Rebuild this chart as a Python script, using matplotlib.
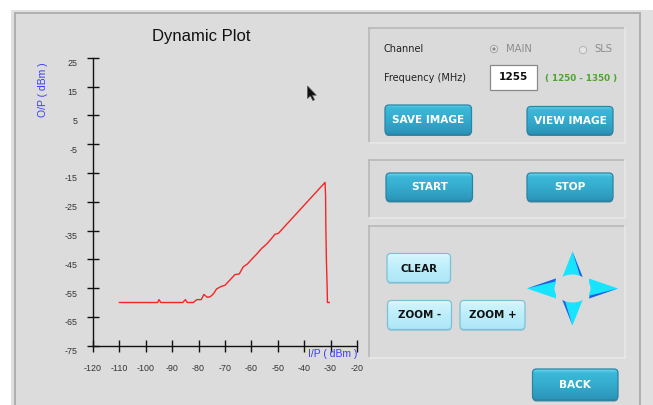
import numpy as np
import matplotlib
matplotlib.use("Agg")
import matplotlib.pyplot as plt
from matplotlib.patches import Rectangle, FancyBboxPatch, Polygon, Ellipse, Circle
from matplotlib.transforms import ScaledTranslation

plt.rcParams["axes.unicode_minus"] = False

# ---------------- data ----------------
ip_dbm = [-110, -95.5, -95, -94.3, -86, -85, -84.3, -82, -80.7, -79, -78, -76.7,
          -75.6, -74.4, -73.2, -71.6, -70, -66.2, -64.6, -63.1, -61.6, -59.9, -58,
          -56.1, -54.2, -52.3, -51.1, -49.8, -32.1, -31.9, -31.8, -31.6, -31.3,
          -31.2, -30.5]
op_dbm = [-60, -60, -59, -60, -60, -59, -60, -60, -59, -59, -57.2, -58.2,
          -58, -57, -55.3, -54.5, -54, -50.3, -50.1, -47.6, -46.7, -45, -43.2,
          -41.2, -39.7, -37.7, -36.3, -36, -18.3, -23, -34, -45, -55,
          -60, -60]
x_ticks = list(range(-120, -19, 10))
y_ticks = list(range(-75, 26, 10))

title_text = "Dynamic Plot"
xlabel_text = "I/P ( dBm )"
ylabel_text = "O/P ( dBm )"

W, H = 653, 405
fig = plt.figure(figsize=(W / 100, H / 100), dpi=100)
fig.patch.set_facecolor("white")

bg = fig.add_axes([0, 0, 1, 1])
bg.set_xlim(0, W)
bg.set_ylim(H, 0)
bg.axis("off")

GRAY = "#dcdcdc"
# main window
bg.add_patch(Rectangle((11, 10), W - 11, H - 10, facecolor="#e0e0e0", edgecolor="none"))
bg.add_patch(Rectangle((15, 13), 640 - 15, H, facecolor=GRAY, edgecolor="#ababab", lw=1.3))

# right panels (sunken)
def panel(x0, y0, x1, y1):
    bg.add_patch(Rectangle((x0, y0), x1 - x0, y1 - y0, facecolor="#dadada", edgecolor="none"))
    bg.plot([x0, x1], [y0, y0], color="#b8b8b8", lw=1.2)
    bg.plot([x0, x0], [y0, y1], color="#b8b8b8", lw=1.2)
    bg.plot([x0, x1], [y1, y1], color="#e8e8e8", lw=1.2)
    bg.plot([x1, x1], [y0, y1], color="#e8e8e8", lw=1.2)

panel(369, 28, 625, 143)
panel(369, 160, 625, 218)
panel(369, 226, 625, 358)

def gradient_button(x0, y0, x1, y1, label, kind):
    if kind == "teal":
        cols = ["#6ad8ee", "#3cb8d8", "#35acce", "#2b94b8"]
        edge = "#2a84a4"
        shadow = "#1d6f8c"
        tcol = "white"
        fs = 7.6
    else:
        cols = ["#eafcff", "#d0f4fc", "#bdeefa", "#aee6f6"]
        edge = "#7cc0d8"
        shadow = "#9cc4d2"
        tcol = "#111111"
        fs = 7.4
    sh = FancyBboxPatch((x0, y0 + 1.5), x1 - x0, y1 - y0,
                        boxstyle="round,pad=0,rounding_size=4",
                        facecolor=shadow, edgecolor="none", alpha=0.8)
    bg.add_patch(sh)
    p = FancyBboxPatch((x0, y0), x1 - x0, y1 - y0,
                       boxstyle="round,pad=0,rounding_size=4",
                       facecolor="none", edgecolor=edge, lw=0.9, zorder=3)
    bg.add_patch(p)
    rgb = np.array([matplotlib.colors.to_rgb(c) for c in cols])
    t = np.linspace(0, 1, 40)
    pos = np.array([0, 0.12, 0.5, 1.0])
    grad = np.stack([np.interp(t, pos, rgb[:, k]) for k in range(3)], axis=1)
    img = np.repeat(grad[:, None, :], 2, axis=1)
    im = bg.imshow(img, extent=(x0, x1, y1, y0), origin="upper",
                   aspect="auto", zorder=2, interpolation="bilinear")
    clip = FancyBboxPatch((x0, y0), x1 - x0, y1 - y0,
                          boxstyle="round,pad=0,rounding_size=4",
                          facecolor="none", edgecolor="none",
                          transform=bg.transData)
    im.set_clip_path(clip)
    bg.text((x0 + x1) / 2, (y0 + y1) / 2 + 0.5, label, ha="center", va="center",
            color=tcol, fontsize=fs, fontweight="bold", family="DejaVu Sans", zorder=4)

gradient_button(385, 105, 471.5, 134.5, "SAVE IMAGE", "teal")
gradient_button(527, 106.5, 613, 134.5, "VIEW IMAGE", "teal")
gradient_button(386, 173, 472.5, 201, "START", "teal")
gradient_button(527, 173, 613, 201, "STOP", "teal")
gradient_button(532.5, 369, 618, 400, "BACK", "teal")
gradient_button(387, 253.5, 450.5, 282.5, "CLEAR", "light")
gradient_button(387.5, 300.5, 451.5, 329.5, "ZOOM -", "light")
gradient_button(460, 300.5, 525, 329.5, "ZOOM +", "light")

bg.set_xlim(0, W)
bg.set_ylim(H, 0)

# labels in top panel
bg.text(384, 49, "Channel", fontsize=7, color="#222222", va="center", family="DejaVu Sans")
bg.text(384, 78, "Frequency (MHz)", fontsize=7, color="#222222", va="center", family="DejaVu Sans")
bg.add_patch(Circle((494, 49), 3.6, facecolor="#e6e6e6", edgecolor="#a8a8a8", lw=0.8))
bg.add_patch(Circle((494, 49), 1.6, facecolor="#8a8a8a", edgecolor="none"))
bg.text(506, 49, "MAIN", fontsize=7.2, color="#8c8c8c", va="center", family="DejaVu Sans")
bg.add_patch(Circle((583, 50), 3.6, facecolor="#e6e6e6", edgecolor="#b8b8b8", lw=0.8))
bg.text(594, 49, "SLS", fontsize=7.2, color="#8c8c8c", va="center", family="DejaVu Sans")
bg.add_patch(Rectangle((490, 64.5), 46.5, 25.5, facecolor="white", edgecolor="#8a8a8a", lw=0.9))
bg.text(513.3, 77.5, "1255", fontsize=7.6, fontweight="bold", color="#111111",
        ha="center", va="center", family="DejaVu Sans")
bg.text(545, 78.5, "( 1250 - 1350 )", fontsize=6.3, fontweight="bold", color="#4aa62a",
        va="center", family="DejaVu Sans")

# direction arrows
CY, BL = "#18e4ff", "#2a56e8"
cx, cy = 572.5, 288.5
bg.add_patch(Polygon([(572.5, 251.5), (562, 278), (583, 278)], facecolor=CY, edgecolor="none"))
bg.add_patch(Polygon([(572.5, 251.5), (583, 278), (580.5, 277.5)], facecolor=BL, edgecolor="none"))
bg.add_patch(Polygon([(527, 288.5), (556, 278.5), (556, 298.5)], facecolor=CY, edgecolor="none"))
bg.add_patch(Polygon([(527, 288.5), (556, 278.5), (555, 281.5)], facecolor=BL, edgecolor="none"))
bg.add_patch(Polygon([(618, 288.5), (589, 278.5), (589, 298.5)], facecolor=CY, edgecolor="none"))
bg.add_patch(Polygon([(618, 288.5), (589, 298.5), (590, 295.5)], facecolor=BL, edgecolor="none"))
bg.add_patch(Polygon([(572.5, 325.5), (562, 299), (583, 299)], facecolor=CY, edgecolor="none"))
bg.add_patch(Polygon([(572.5, 325.5), (562, 299), (564.5, 299.5)], facecolor=BL, edgecolor="none"))
bg.add_patch(Ellipse((cx, cy), 36, 28, facecolor="#dadada", edgecolor="none"))

# mouse cursor
cur = np.array([(0, 0), (0, 12.5), (3, 9.8), (5.3, 14.5), (7, 13.8), (4.8, 9.2), (8.8, 9.2)])
bg.add_patch(Polygon(cur + np.array([307.5, 86]), facecolor="#111111", edgecolor="#555555", lw=0.5))

# title
bg.text(201.5, 36, title_text, ha="center", va="center", fontsize=12,
        family="Liberation Sans", color="#111111")

# ---------------- plot axes ----------------
x0p, x1p, y0p, y1p = 93, 357, 57.7, 345.7
ax = fig.add_axes([x0p / W, (H - y1p) / H, (x1p - x0p) / W, (y1p - y0p) / H])
ax.set_facecolor("none")
ax.plot(ip_dbm, op_dbm, color="#f52525", lw=1.0)
ax.set_xlim(-120, -20)
ax.set_ylim(-75, 25)
ax.set_xticks(x_ticks)
ax.set_yticks(y_ticks)
for s in ["top", "right"]:
    ax.spines[s].set_visible(False)
for s in ["left", "bottom"]:
    ax.spines[s].set_linewidth(1.0)
    ax.spines[s].set_color("#111111")
ax.tick_params(axis="both", direction="inout", length=8, width=1.0, color="#111111",
               labelsize=6.4, labelcolor="#333333")
ax.tick_params(axis="x", pad=9.0)
ax.tick_params(axis="y", pad=7.0)
for lab in ax.get_xticklabels() + ax.get_yticklabels():
    lab.set_family("Liberation Sans")
off = ScaledTranslation(0, -5 / 100, fig.dpi_scale_trans)
for lab in ax.get_yticklabels():
    lab.set_transform(lab.get_transform() + off)

ax.set_xlabel(xlabel_text, color="#3a3aff", fontsize=7.5, family="Liberation Sans")
ax.xaxis.set_label_coords((333 - x0p) / (x1p - x0p), (y1p - 354) / (y1p - y0p))
ax.xaxis.label.set_va("center")
ax.set_ylabel(ylabel_text, color="#3a3aff", fontsize=7.5, family="Liberation Sans")
ax.yaxis.set_label_coords((43 - x0p) / (x1p - x0p), (y1p - 90) / (y1p - y0p))
ax.yaxis.label.set_va("center")

fig.savefig("out.png", dpi=100, facecolor="white")
